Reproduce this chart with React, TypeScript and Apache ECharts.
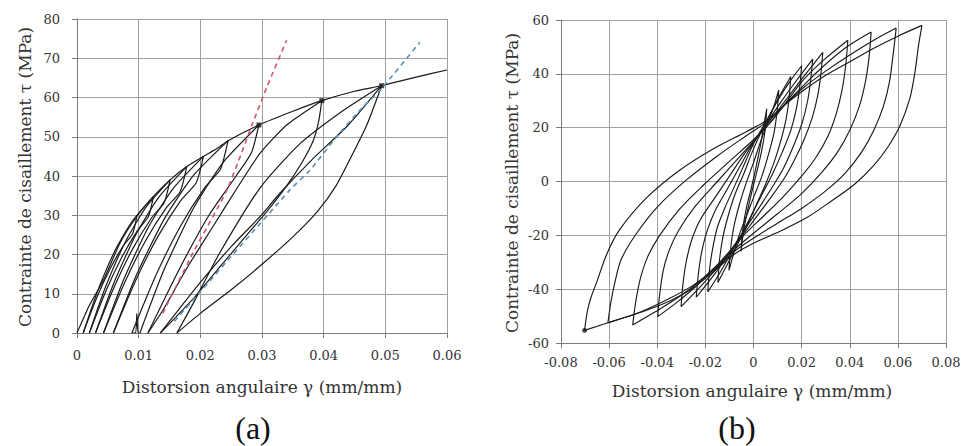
import React, { useEffect, useRef } from 'react';
import * as echarts from 'echarts';

// ---------- Panel (a): monotonic-cycle shear test ----------
const xTicksA = ['0', '0.01', '0.02', '0.03', '0.04', '0.05', '0.06'];
const yTicksA = ['0', '10', '20', '30', '40', '50', '60', '70', '80'];

const envelopeA = [[0,0],[0.002,7],[0.0043,13.5],[0.007,23],[0.0097,29.7],[0.0124,34.8],[0.0151,39],[0.0178,42.4],[0.0205,45],[0.0227,47],[0.0245,49],[0.0295,53],[0.035,56.5],[0.0397,59.2],[0.045,61.6],[0.0494,63],[0.055,65.2],[0.06,67]];
const cycleA1 = [[0.0097,29.7],[0.009,25.2],[0.00753,22.3],[0.00535,16.3],[0.00318,8.9],[0.001,0]];
const cycleA2 = [[0.001,0],[0.00328,10.4],[0.00613,20.9],[0.00898,28.5],[0.0124,34.8],[0.01157,29.6],[0.0098,26.1],[0.0072,19.1],[0.0046,10.4],[0.002,0]];
const cycleA3 = [[0.002,0],[0.00462,11.7],[0.0079,23.4],[0.01117,32],[0.0151,39],[0.01413,33.2],[0.01208,29.3],[0.00905,21.5],[0.00603,11.7],[0.003,0]];
const cycleA4 = [[0.003,0],[0.00596,12.7],[0.00966,25.4],[0.01336,34.8],[0.0178,42.4],[0.01672,36],[0.01443,31.8],[0.01105,23.3],[0.00768,12.7],[0.0043,0]];
const cycleA5 = [[0.0043,0],[0.00754,13.5],[0.01159,27],[0.01564,36.9],[0.0205,45],[0.01933,38.3],[0.01685,33.8],[0.0132,24.8],[0.00955,13.5],[0.0059,0]];
const cycleA6 = [[0.0059,0],[0.00962,14.7],[0.01427,29.4],[0.01892,40.2],[0.0245,49],[0.02325,41.7],[0.0206,36.8],[0.0167,27],[0.0128,14.7],[0.0089,0]];
const spikeA = [[0.0089,0],[0.0095,0],[0.0097,5],[0.0099,0],[0.0102,0]];
const cycleA7 = [[0.0102,0],[0.01406,15.9],[0.01889,31.8],[0.02371,43.5],[0.0295,53],[0.0283,46],[0.0258,40],[0.0214,30],[0.0165,16],[0.0115,0]];
const cycleA8 = [[0.0115,0],[0.014,6],[0.018,17],[0.022,27],[0.026,37],[0.0297,45.8],[0.034,53],[0.0397,59.2],[0.0392,54],[0.0383,49],[0.0365,43.5],[0.034,37.5],[0.0308,31],[0.027,24],[0.023,16.5],[0.019,9],[0.016,4],[0.0135,0]];
const cycleA9 = [[0.0135,0],[0.0155,4],[0.0199,12.7],[0.025,22],[0.0297,29.7],[0.0329,35.6],[0.038,44],[0.044,53],[0.0494,63],[0.047,53],[0.0445,45],[0.042,37.5],[0.039,31],[0.035,24.5],[0.03,17.5],[0.025,11],[0.02,5],[0.0162,0]];
const finalA = [[0.0162,0],[0.019,8],[0.023,20],[0.0297,37],[0.036,48],[0.043,56.5],[0.0494,63]];
const redDashA = [[0.0139,5],[0.0188,20.4],[0.0243,36.4],[0.0285,53.5],[0.0308,62.7],[0.034,74.6]];
const blueDashA = [[0.0158,3],[0.0345,36.4],[0.0378,41.5],[0.0421,50],[0.0459,56.8],[0.0494,62.3],[0.0556,74.1]];
const nodesA = [[0.0295,53],[0.0397,59.2],[0.0494,63]];

// ---------- Panel (b): cyclic (reversed) shear test ----------
const xTicksB = ['-0.08', '-0.06', '-0.04', '-0.02', '0', '0.02', '0.04', '0.06', '0.08'];
const yTicksB = ['-60', '-40', '-20', '0', '20', '40', '60'];

const loopB1 = [[0.07,58],[0.0685,50],[0.067,40],[0.065,31],[0.061,21],[0.056,13],[0.05,6],[0.042,-1],[0.032,-7.5],[0.022,-13.5],[0.011,-18.5],[0.001,-22.5],[-0.008,-27],[-0.016,-33],[-0.025,-39.5],[-0.035,-44.5],[-0.045,-48],[-0.057,-51.5],[-0.0702,-55.3],[-0.069,-48],[-0.0675,-43],[-0.065,-37],[-0.061,-27],[-0.0557,-18],[-0.0446,-6.2],[-0.031,4],[-0.017,12],[-0.003,18.5],[0.006,23],[0.013,28.5],[0.021,34],[0.03,39.5],[0.04,44.5],[0.05,49.5],[0.06,54],[0.07,58]];
const loopB2 = [[0.0593,57],[0.058,47],[0.0565,37],[0.054,28],[0.05,19],[0.045,11],[0.038,3],[0.03,-3.5],[0.02,-10],[0.01,-15.5],[0.001,-20.5],[-0.008,-26],[-0.016,-32.5],[-0.025,-38.5],[-0.035,-43.5],[-0.047,-48.5],[-0.0605,-52.5],[-0.0593,-45],[-0.0575,-37],[-0.055,-29],[-0.049,-19.8],[-0.04,-9.5],[-0.028,0.5],[-0.015,9.5],[-0.003,17],[0.006,22.5],[0.013,28.5],[0.021,35],[0.03,41],[0.04,47],[0.05,52.5],[0.0593,57]];
const loopB3 = [[0.0489,55.5],[0.048,46],[0.0465,37],[0.044,28],[0.04,19],[0.035,11],[0.028,3],[0.02,-4.5],[0.01,-12],[0.001,-18.5],[-0.007,-24.5],[-0.015,-31],[-0.023,-37.5],[-0.032,-43.5],[-0.041,-48.5],[-0.0502,-53.3],[-0.049,-45],[-0.047,-36],[-0.044,-28],[-0.039,-20],[-0.031,-10.5],[-0.021,-1.5],[-0.01,7.5],[0,15.5],[0.007,22],[0.013,28.5],[0.02,35],[0.028,42],[0.038,49.5],[0.0489,55.5]];
const loopB4 = [[0.0392,52.5],[0.0383,43],[0.0368,34],[0.0345,25.5],[0.031,17],[0.026,9],[0.02,2],[0.012,-6],[0.004,-13],[-0.003,-19],[-0.009,-25],[-0.016,-32],[-0.024,-39],[-0.032,-45],[-0.0398,-50.2],[-0.039,-42],[-0.0375,-33],[-0.035,-25.5],[-0.031,-18],[-0.024,-9],[-0.015,0],[-0.006,9],[0.002,17],[0.008,23],[0.014,30],[0.021,38],[0.029,45],[0.0392,52.5]];
const loopB5 = [[0.0288,48],[0.028,40],[0.0267,32],[0.0245,24],[0.021,15.5],[0.017,8],[0.013,1.5],[0.008,-5],[0.003,-11],[-0.002,-17],[-0.008,-24],[-0.014,-31],[-0.021,-38],[-0.0301,-46.5],[-0.0293,-38],[-0.028,-30],[-0.0258,-22],[-0.022,-14],[-0.016,-6],[-0.01,2],[-0.004,10],[0.002,17],[0.008,24],[0.014,31],[0.02,38],[0.0288,48]];
const loopB6 = [[0.0246,45.5],[0.0238,38],[0.0225,30],[0.0203,22],[0.017,14],[0.0125,5],[0.0075,-2.5],[0.0025,-9.5],[-0.003,-17],[-0.009,-25],[-0.015,-33],[-0.0238,-43],[-0.023,-35],[-0.0217,-27],[-0.0195,-19],[-0.016,-11],[-0.011,-3],[-0.006,5],[-0.001,13],[0.005,21],[0.011,29],[0.017,36.5],[0.0246,45.5]];
const loopB7 = [[0.02,43],[0.0192,35],[0.0178,27],[0.0155,19],[0.012,11],[0.008,3],[0.004,-4],[0,-11],[-0.004,-18],[-0.009,-26],[-0.014,-34],[-0.019,-41],[-0.0183,-33],[-0.017,-25],[-0.015,-17],[-0.012,-10],[-0.008,-2],[-0.004,6],[0,14],[0.005,22],[0.01,30],[0.015,37],[0.02,43]];
const loopB8 = [[0.0155,39],[0.0148,31],[0.0135,23],[0.0113,15],[0.0085,7],[0.005,-1],[0.001,-9],[-0.003,-17],[-0.007,-24],[-0.011,-31],[-0.0148,-37.5],[-0.0141,-29],[-0.0128,-21],[-0.0106,-13],[-0.0078,-5],[-0.004,3],[-0.0005,11],[0.003,18],[0.007,25],[0.011,32],[0.0155,39]];
const loopB9 = [[0.0105,34],[0.0098,26],[0.0085,18],[0.0062,10],[0.0035,2],[0,-6],[-0.003,-13],[-0.006,-20],[-0.008,-26],[-0.0102,-33],[-0.0095,-25],[-0.0082,-17],[-0.006,-9],[-0.0032,-1],[0,7],[0.003,15],[0.006,22],[0.0085,28],[0.0105,34]];
const loopB10 = [[0.0055,27],[0.0048,19],[0.0033,11],[0.0012,3],[-0.001,-5],[-0.003,-13],[-0.0042,-19],[-0.0052,-26],[-0.0045,-18],[-0.003,-10],[-0.0008,-2],[0.0012,6],[0.003,14],[0.0043,21],[0.0055,27]];
const startPointB = [[-0.0702,-55.3]];

const curvesA = [envelopeA, cycleA1, cycleA2, cycleA3, cycleA4, cycleA5, cycleA6, spikeA, cycleA7, cycleA8, cycleA9, finalA];
const loopsB = [loopB1, loopB2, loopB3, loopB4, loopB5, loopB6, loopB7, loopB8, loopB9, loopB10];

const SERIF = 'DejaVu Serif';

function axisCommon(labels: string[], min: number, step: number, margin: number) {
  return {
    type: 'value' as const,
    min,
    max: min + step * (labels.length - 1),
    interval: step,
    axisLine: { show: true, onZero: false, lineStyle: { color: '#7a7a7a', width: 1 } },
    axisTick: { show: true, length: 5, lineStyle: { color: '#7a7a7a' } },
    splitLine: { show: true, lineStyle: { color: '#a0a0a0', width: 1 } },
    axisLabel: {
      margin,
      fontFamily: SERIF,
      fontSize: 13,
      color: '#333',
      formatter: (v: number) => labels[Math.round((v - min) / step)] ?? '',
    },
  };
}

export default function App() {
  const ref = useRef<HTMLDivElement>(null);
  useEffect(() => {
    if (!ref.current) return;
    const chart = echarts.init(ref.current, undefined, { renderer: 'svg' });
    const lineA = (data: number[][]) => ({
      type: 'line', xAxisIndex: 0, yAxisIndex: 0, data, showSymbol: false, smooth: 0.2,
      lineStyle: { color: '#1a1a1a', width: 1.2 }, silent: true,
    });
    const lineB = (data: number[][]) => ({
      type: 'line', xAxisIndex: 1, yAxisIndex: 1, data, showSymbol: false, smooth: 0.3,
      lineStyle: { color: '#1a1a1a', width: 1.15 }, silent: true,
    });
    const series: any[] = [
      ...curvesA.map(lineA),
      { type: 'line', xAxisIndex: 0, yAxisIndex: 0, data: redDashA, showSymbol: false, smooth: 0.2,
        lineStyle: { color: '#d4536c', width: 1.6, type: [5, 4] } },
      { type: 'line', xAxisIndex: 0, yAxisIndex: 0, data: blueDashA, showSymbol: false, smooth: 0.2,
        lineStyle: { color: '#5a8fb5', width: 1.6, type: [5, 4] } },
      { type: 'scatter', xAxisIndex: 0, yAxisIndex: 0, data: nodesA, symbol: 'rect', symbolSize: 5,
        itemStyle: { color: '#1a1a1a' } },
      ...loopsB.map(lineB),
      { type: 'scatter', xAxisIndex: 1, yAxisIndex: 1, data: startPointB, symbolSize: 5,
        itemStyle: { color: '#1a1a1a' } },
    ];
    chart.setOption({
      animation: false,
      backgroundColor: '#ffffff',
      grid: [
        { left: 77, top: 19, width: 370, height: 314 },
        { left: 561, top: 20, width: 385, height: 323 },
      ],
      xAxis: [
        { gridIndex: 0, ...axisCommon(xTicksA, 0, 0.01, 16) },
        { gridIndex: 1, ...axisCommon(xTicksB, -0.08, 0.02, 13) },
      ],
      yAxis: [
        { gridIndex: 0, ...axisCommon(yTicksA, 0, 10, 17) },
        { gridIndex: 1, ...axisCommon(yTicksB, -60, 20, 12) },
      ],
      graphic: [
        { type: 'text', x: 262, y: 387, style: { text: 'Distorsion angulaire γ (mm/mm)', fontFamily: SERIF, fontSize: 17, fill: '#333', align: 'center', verticalAlign: 'middle' } },
        { type: 'text', x: 752, y: 391, style: { text: 'Distorsion angulaire γ (mm/mm)', fontFamily: SERIF, fontSize: 17, fill: '#333', align: 'center', verticalAlign: 'middle' } },
        { type: 'text', x: 25, y: 177, rotation: Math.PI / 2, style: { text: 'Contrainte de cisaillement τ (MPa)', fontFamily: SERIF, fontSize: 17, fill: '#333', align: 'center', verticalAlign: 'middle' } },
        { type: 'text', x: 512, y: 183, rotation: Math.PI / 2, style: { text: 'Contrainte de cisaillement τ (MPa)', fontFamily: SERIF, fontSize: 17, fill: '#333', align: 'center', verticalAlign: 'middle' } },
        { type: 'text', x: 253, y: 428, style: { text: '(a)', fontFamily: 'Liberation Serif', fontSize: 32, fill: '#111', align: 'center', verticalAlign: 'middle' } },
        { type: 'text', x: 737, y: 428, style: { text: '(b)', fontFamily: 'Liberation Serif', fontSize: 32, fill: '#111', align: 'center', verticalAlign: 'middle' } },
      ],
      series,
    });
    return () => chart.dispose();
  }, []);
  return <div ref={ref} style={{ position: 'absolute', left: 0, top: 0, width: 964, height: 446 }} />;
}
